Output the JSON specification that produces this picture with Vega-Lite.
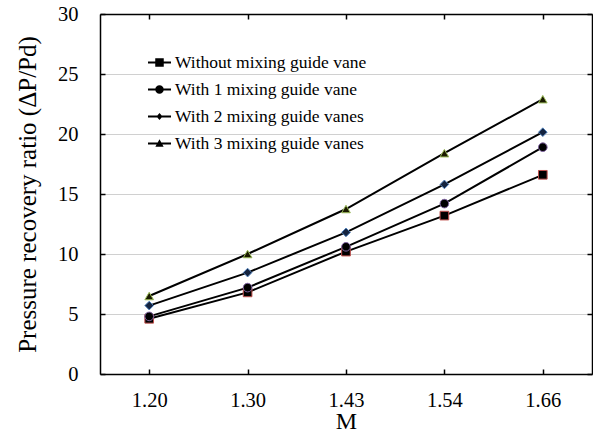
{
  "$schema": "https://vega.github.io/schema/vega-lite/v6.json",
  "width": 492,
  "height": 360,
  "autosize": "none",
  "padding": {"left": 100, "top": 14, "right": 1, "bottom": 60},
  "background": "white",
  "config": {
    "font": "Liberation Serif",
    "view": {"stroke": null},
    "axis": {
      "domainColor": "black",
      "domainWidth": 1.5,
      "tickColor": "black",
      "tickWidth": 1.5,
      "labelColor": "black",
      "titleColor": "black",
      "labelFont": "Liberation Serif",
      "titleFont": "Liberation Serif",
      "titleFontWeight": "normal"
    }
  },
  "data": {
    "values": [
      {"M": "1.20", "series": "Without mixing guide vane", "ratio": 4.6},
      {"M": "1.30", "series": "Without mixing guide vane", "ratio": 6.8},
      {"M": "1.43", "series": "Without mixing guide vane", "ratio": 10.2},
      {"M": "1.54", "series": "Without mixing guide vane", "ratio": 13.2},
      {"M": "1.66", "series": "Without mixing guide vane", "ratio": 16.6},
      {"M": "1.20", "series": "With 1 mixing guide vane", "ratio": 4.8},
      {"M": "1.30", "series": "With 1 mixing guide vane", "ratio": 7.2},
      {"M": "1.43", "series": "With 1 mixing guide vane", "ratio": 10.6},
      {"M": "1.54", "series": "With 1 mixing guide vane", "ratio": 14.2},
      {"M": "1.66", "series": "With 1 mixing guide vane", "ratio": 18.9},
      {"M": "1.20", "series": "With 2 mixing guide vanes", "ratio": 5.7},
      {"M": "1.30", "series": "With 2 mixing guide vanes", "ratio": 8.45},
      {"M": "1.43", "series": "With 2 mixing guide vanes", "ratio": 11.8},
      {"M": "1.54", "series": "With 2 mixing guide vanes", "ratio": 15.8},
      {"M": "1.66", "series": "With 2 mixing guide vanes", "ratio": 20.15},
      {"M": "1.20", "series": "With 3 mixing guide vanes", "ratio": 6.5},
      {"M": "1.30", "series": "With 3 mixing guide vanes", "ratio": 10.0},
      {"M": "1.43", "series": "With 3 mixing guide vanes", "ratio": 13.75},
      {"M": "1.54", "series": "With 3 mixing guide vanes", "ratio": 18.4},
      {"M": "1.66", "series": "With 3 mixing guide vanes", "ratio": 22.9}
    ]
  },
  "layer": [
    {
      "mark": {"type": "line", "color": "black", "strokeWidth": 2},
      "encoding": {
        "x": {
          "field": "M", "type": "ordinal",
          "scale": {"type": "point", "padding": 0.5, "domain": ["1.20", "1.30", "1.43", "1.54", "1.66"]},
          "axis": {"orient": "bottom", "title": "M", "titleFontSize": 24, "labelFontSize": 20.5, "labelAngle": 0, "tickSize": -5, "labelPadding": 21, "titlePadding": -1, "grid": false}
        },
        "y": {
          "field": "ratio", "type": "quantitative",
          "scale": {"domain": [0, 30], "nice": false},
          "axis": {"orient": "left", "title": "Pressure recovery ratio (ΔP/Pd)", "titleFontSize": 25, "labelFontSize": 20.5, "values": [0, 5, 10, 15, 20, 25, 30], "tickSize": -5, "labelPadding": 27, "titlePadding": 17, "grid": true, "gridColor": "#d0d0d0", "gridWidth": 1}
        },
        "detail": {"field": "series"}
      }
    },
    {
      "mark": {"type": "point", "filled": true, "size": 75, "strokeWidth": 1, "opacity": 1},
      "encoding": {
        "x": {"field": "M", "type": "ordinal", "axis": {"orient": "top", "title": null, "labels": false, "tickSize": -5, "grid": false}},
        "y": {"field": "ratio", "type": "quantitative", "axis": {"orient": "right", "title": null, "labels": false, "values": [0, 5, 10, 15, 20, 25, 30], "tickSize": -5, "grid": false}},
        "shape": {
          "field": "series", "type": "nominal",
          "scale": {"domain": ["Without mixing guide vane", "With 1 mixing guide vane", "With 2 mixing guide vanes", "With 3 mixing guide vanes"], "range": ["square", "circle", "diamond", "triangle-up"]},
          "legend": null
        },
        "fill": {
          "field": "series", "type": "nominal",
          "scale": {"domain": ["Without mixing guide vane", "With 1 mixing guide vane", "With 2 mixing guide vanes", "With 3 mixing guide vanes"], "range": ["#000000", "#000000", "#14233f", "#1a1a00"]},
          "legend": null
        },
        "stroke": {
          "field": "series", "type": "nominal",
          "scale": {"domain": ["Without mixing guide vane", "With 1 mixing guide vane", "With 2 mixing guide vanes", "With 3 mixing guide vanes"], "range": ["#c0504d", "#8064a2", "#4f81bd", "#9bbb59"]},
          "legend": null
        }
      }
    },
    {
      "mark": {"type": "point", "filled": true, "color": "black", "opacity": 0},
      "encoding": {
        "x": {"field": "M", "type": "ordinal", "axis": null},
        "y": {"field": "ratio", "type": "quantitative", "axis": null},
        "shape": {
          "field": "series", "type": "nominal",
          "scale": {
            "domain": ["Without mixing guide vane", "With 1 mixing guide vane", "With 2 mixing guide vanes", "With 3 mixing guide vanes"],
            "range": [
              "M-1,-0.08H1V0.08H-1ZM-0.37,-0.37H0.37V0.37H-0.37Z",
              "M-1,-0.08H1V0.08H-1ZM0.37,0A0.37,0.37 0 1,1 -0.37,0A0.37,0.37 0 1,1 0.37,0Z",
              "M-1,-0.08H1V0.08H-1ZM0,-0.3L0.26,0L0,0.3L-0.26,0Z",
              "M-1,-0.08H1V0.08H-1ZM0,-0.36L0.36,0.28H-0.36Z"
            ]
          },
          "legend": {
            "title": null,
            "orient": "none",
            "legendX": 47,
            "legendY": 36,
            "padding": 0,
            "symbolSize": 529,
            "symbolOpacity": 1,
            "labelFont": "Liberation Serif",
            "labelFontSize": 17.5,
            "labelColor": "black",
            "labelOffset": 3,
            "rowPadding": 6,
            "labelLimit": 400,
            "encode": {
              "symbols": {
                "update": {
                  "fill": {"value": "black"},
                  "stroke": {"value": "black"},
                  "strokeWidth": {"value": 1},
                  "size": {"value": 529},
                  "opacity": {"value": 1}
                }
              }
            }
          }
        }
      }
    }
  ],
  "resolve": {
    "axis": {"x": "independent", "y": "independent"},
    "scale": {"shape": "independent"}
  }
}
